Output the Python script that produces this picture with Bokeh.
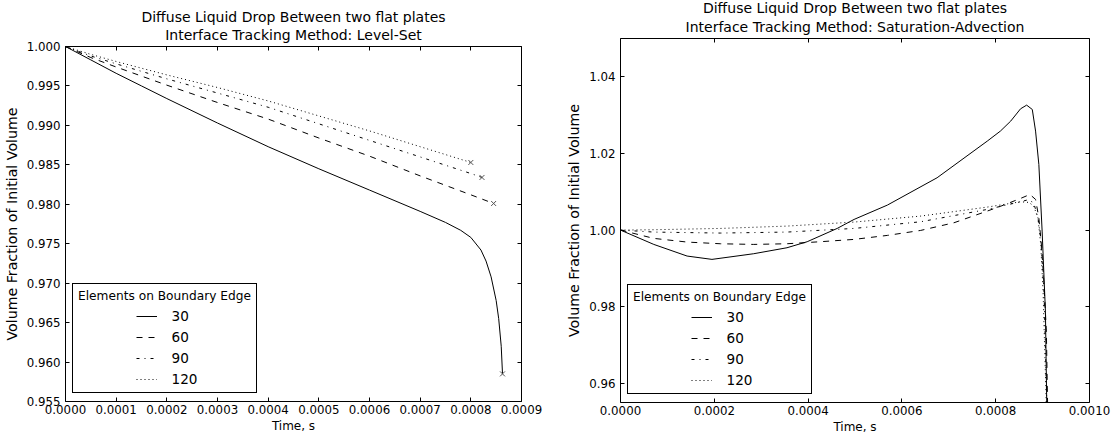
from bokeh.plotting import figure
from bokeh.models import (Range1d, LinearAxis, FixedTicker, PrintfTickFormatter,
                          Legend, LegendItem, Title)
from bokeh.embed import file_html
from bokeh.resources import INLINE

FONT = "DejaVu Sans"

# ---------------- data ----------------
series_labels = ["30", "60", "90", "120"]
legend_title = "Elements on Boundary Edge"
title_line1 = "Diffuse Liquid Drop Between two flat plates"
ls_title_line2 = "Interface Tracking Method: Level-Set"
sa_title_line2 = "Interface Tracking Method: Saturation-Advection"
x_label = "Time, s"
y_label = "Volume Fraction of Initial Volume"

# Level-Set panel
ls_t30 = [0, 0.00005, 0.0001, 0.00015, 0.0002, 0.0003, 0.0004, 0.0005, 0.0006, 0.0007,
          0.00075, 0.00078, 0.0008, 0.00082, 0.00083, 0.00084, 0.00085, 0.000855, 0.00086, 0.0008625]
ls_v30 = [1.0, 0.9983, 0.9966, 0.9950, 0.9934, 0.9903, 0.9873, 0.9845, 0.9818, 0.9791,
          0.9777, 0.9767, 0.9758, 0.9742, 0.9728, 0.9708, 0.9678, 0.9655, 0.9620, 0.9585]
ls_t60 = [0, 0.00005, 0.0001, 0.0002, 0.0003, 0.0004, 0.0005, 0.0006, 0.0007, 0.0008, 0.000845]
ls_v60 = [1.0, 0.9986, 0.9974, 0.9951, 0.9929, 0.9908, 0.9884, 0.9861, 0.9836, 0.9812, 0.9801]
ls_t90 = [0, 0.00005, 0.0001, 0.0002, 0.0003, 0.0004, 0.0005, 0.0006, 0.0007, 0.0008, 0.000822]
ls_v90 = [1.0, 0.9988, 0.9978, 0.9959, 0.9941, 0.9923, 0.9902, 0.9881, 0.9860, 0.9839, 0.9834]
ls_t120 = [0, 0.00005, 0.0001, 0.0002, 0.0003, 0.0004, 0.0005, 0.0006, 0.0007, 0.0008]
ls_v120 = [1.0, 0.9990, 0.9981, 0.9964, 0.9948, 0.9931, 0.9912, 0.9893, 0.9873, 0.9853]
ls_xticks = [0.0, 0.0001, 0.0002, 0.0003, 0.0004, 0.0005, 0.0006, 0.0007, 0.0008, 0.0009]
ls_yticks = [0.955, 0.960, 0.965, 0.970, 0.975, 0.980, 0.985, 0.990, 0.995, 1.000]
ls_xlim = (0.0, 0.0009)
ls_ylim = (0.955, 1.000)

# Saturation-Advection panel
sa_t30 = [0, 0.000071, 0.000142, 0.000195, 0.000284, 0.000355, 0.000398, 0.000462, 0.000498,
          0.000569, 0.000675, 0.000782, 0.000810, 0.000832, 0.000853, 0.000866, 0.000878,
          0.000885, 0.000892, 0.000899, 0.000906, 0.000910]
sa_v30 = [1.0, 0.99626, 0.99322, 0.99235, 0.99383, 0.99539, 0.99696, 1.00043, 1.00278,
          1.00652, 1.01365, 1.02322, 1.02583, 1.02844, 1.03165, 1.03261, 1.03148,
          1.02583, 1.01713, 0.99974, 0.97887, 0.945]
sa_t60 = [0, 0.000071, 0.000142, 0.000213, 0.000284, 0.000355, 0.000426, 0.000498, 0.000569,
          0.00064, 0.000711, 0.000782, 0.000817, 0.000853, 0.000873, 0.000885, 0.000892,
          0.000898, 0.000903, 0.000908, 0.000912]
sa_v60 = [1.0, 0.99783, 0.99687, 0.99643, 0.99626, 0.99643, 0.99696, 0.99757, 0.99861,
          0.99991, 1.00191, 1.00496, 1.00652, 1.00826, 1.0093, 1.008, 1.00322,
          0.99539, 0.98583, 0.97365, 0.945]
sa_t90 = [0, 0.000071, 0.000213, 0.000355, 0.000498, 0.00064, 0.000782, 0.000853, 0.000869,
          0.000881, 0.00089, 0.000896, 0.000903, 0.000911]
sa_v90 = [1.0, 0.99948, 0.99922, 0.99948, 1.00043, 1.00217, 1.00539, 1.00739, 1.00791,
          1.00713, 1.00322, 0.998, 0.98409, 0.945]
sa_t120 = [0, 0.000071, 0.000213, 0.000355, 0.000498, 0.00064, 0.000782, 0.000853, 0.000871,
           0.000881, 0.00089, 0.000896, 0.000901, 0.00091]
sa_v120 = [1.0, 1.00009, 1.00043, 1.00104, 1.00209, 1.00365, 1.006, 1.00739, 1.00722,
           1.00626, 1.00322, 0.99626, 0.98409, 0.945]
sa_xticks = [0.0, 0.0002, 0.0004, 0.0006, 0.0008, 0.0010]
sa_yticks = [0.96, 0.98, 1.00, 1.02, 1.04]
sa_xlim = (0.0, 0.0010)
sa_ylim = (0.955, 1.05)

dashes = ["solid", "6 6", "3 5 1 5", "1 3"]

TICK_FS = "11.8px"
XLABEL_FS = "12px"
YLABEL_FS = "14.2px"
TITLE_FS = "14px"
LEG_TITLE_FS = "12.2px"
LEG_LABEL_FS = "13.6px"


def style_axis(ax, ticks, fmt, show_labels, standoff):
    ax.ticker = FixedTicker(ticks=ticks)
    ax.formatter = PrintfTickFormatter(format=fmt)
    ax.major_tick_in = 4
    ax.major_tick_out = 0
    ax.minor_tick_in = 0
    ax.minor_tick_out = 0
    ax.major_tick_line_color = "black"
    ax.axis_line_color = None
    ax.major_label_text_font = FONT
    ax.major_label_text_color = "black"
    ax.major_label_standoff = standoff
    if show_labels:
        ax.major_label_text_font_size = TICK_FS
    else:
        ax.major_label_text_font_size = "1px"
        ax.major_label_text_alpha = 0


def panel(ts, vs, xlim, ylim, xticks, yticks, xfmt, yfmt, title2, frame, borders,
          title_standoffs, markers):
    fw, fh = frame
    bl, br, bt, bb = borders
    p = figure(x_range=Range1d(*xlim), y_range=Range1d(*ylim),
               frame_width=fw, frame_height=fh,
               min_border_left=bl, min_border_right=br,
               min_border_top=bt, min_border_bottom=bb,
               output_backend="svg", toolbar_location=None, title_location=None)
    p.xgrid.visible = False
    p.ygrid.visible = False
    p.outline_line_color = "black"
    p.outline_line_alpha = 1.0
    p.outline_line_width = 1
    p.background_fill_color = "white"
    p.border_fill_color = "white"

    style_axis(p.xaxis[0], xticks, xfmt, True, 3)
    style_axis(p.yaxis[0], yticks, yfmt, True, 5)
    p.xaxis.axis_label = x_label
    p.yaxis.axis_label = y_label
    p.xaxis.axis_label_text_font_size = XLABEL_FS
    p.yaxis.axis_label_text_font_size = YLABEL_FS
    for ax in (p.xaxis[0], p.yaxis[0]):
        ax.axis_label_text_font = FONT
        ax.axis_label_text_font_style = "normal"
        ax.axis_label_text_color = "black"
    p.xaxis.axis_label_standoff = 2
    p.yaxis.axis_label_standoff = 4

    top = LinearAxis()
    style_axis(top, xticks, xfmt, False, 0)
    p.add_layout(top, "above")
    right = LinearAxis()
    style_axis(right, yticks, yfmt, False, 0)
    p.add_layout(right, "right")

    # two-line title above the frame (first added sits closest to the frame)
    for txt, so in zip((title2, title_line1), title_standoffs):
        p.add_layout(Title(text=txt, align="center", vertical_align="top",
                           text_font=FONT, text_font_size=TITLE_FS,
                           text_font_style="normal", text_color="black",
                           text_line_height=1.0, standoff=so, offset=0), "above")

    renderers = []
    for t, v, d in zip(ts, vs, dashes):
        r = p.line(t, v, line_color="black", line_width=1, line_dash=d)
        renderers.append(r)

    if markers:
        p.scatter([t[-1] for t in ts], [v[-1] for v in vs], marker="x", size=7,
                  line_color="#555555", line_width=1)

    # legend frame with title
    dummy = p.line(ts[0][:2], vs[0][:2], line_alpha=0)
    leg_a = Legend(items=[LegendItem(label=" ", renderers=[dummy])],
                   title=legend_title, title_text_font=FONT,
                   title_text_font_size=LEG_TITLE_FS, title_text_font_style="normal",
                   title_text_color="black", title_standoff=4,
                   location=(7, 7.7), padding=5, spacing=0,
                   glyph_width=130, glyph_height=80, label_height=80, label_standoff=0,
                   label_width=20, label_text_font_size="10px",
                   border_line_color="black", border_line_width=1, border_line_alpha=1,
                   background_fill_color="white", background_fill_alpha=1)
    p.add_layout(leg_a, "center")
    # legend entries (centred under the title)
    leg_b = Legend(items=[LegendItem(label=lab, renderers=[r])
                          for lab, r in zip(series_labels, renderers)],
                   location=(70.5, 11.7), padding=0, spacing=1,
                   glyph_width=21, glyph_height=20, label_height=20, label_standoff=15,
                   label_text_font=FONT, label_text_font_size=LEG_LABEL_FS,
                   label_text_color="black",
                   border_line_color=None, background_fill_alpha=0)
    p.add_layout(leg_b, "center")
    return p


p1 = panel([ls_t30, ls_t60, ls_t90, ls_t120], [ls_v30, ls_v60, ls_v90, ls_v120],
           ls_xlim, ls_ylim, ls_xticks, ls_yticks, "%.4f", "%.3f", ls_title_line2,
           (456, 355), (65, 39, 46, 36), (3, -3.5), True)
p2 = panel([sa_t30, sa_t60, sa_t90, sa_t120], [sa_v30, sa_v60, sa_v90, sa_v120],
           sa_xlim, sa_ylim, sa_xticks, sa_yticks, "%.4f", "%.2f", sa_title_line2,
           (469, 364), (60, 29, 38, 35), (4, -3.5), False)

# two independent roots placed side by side (no shared border alignment)
TEMPLATE = """
{% block preamble %}
<style>
  body { display: flex !important; flex-direction: row; align-items: flex-start;
         margin: 0; padding: 0; }
</style>
{% endblock %}
"""

open("out.html", "w").write(file_html([p1, p2], INLINE, template=TEMPLATE))
